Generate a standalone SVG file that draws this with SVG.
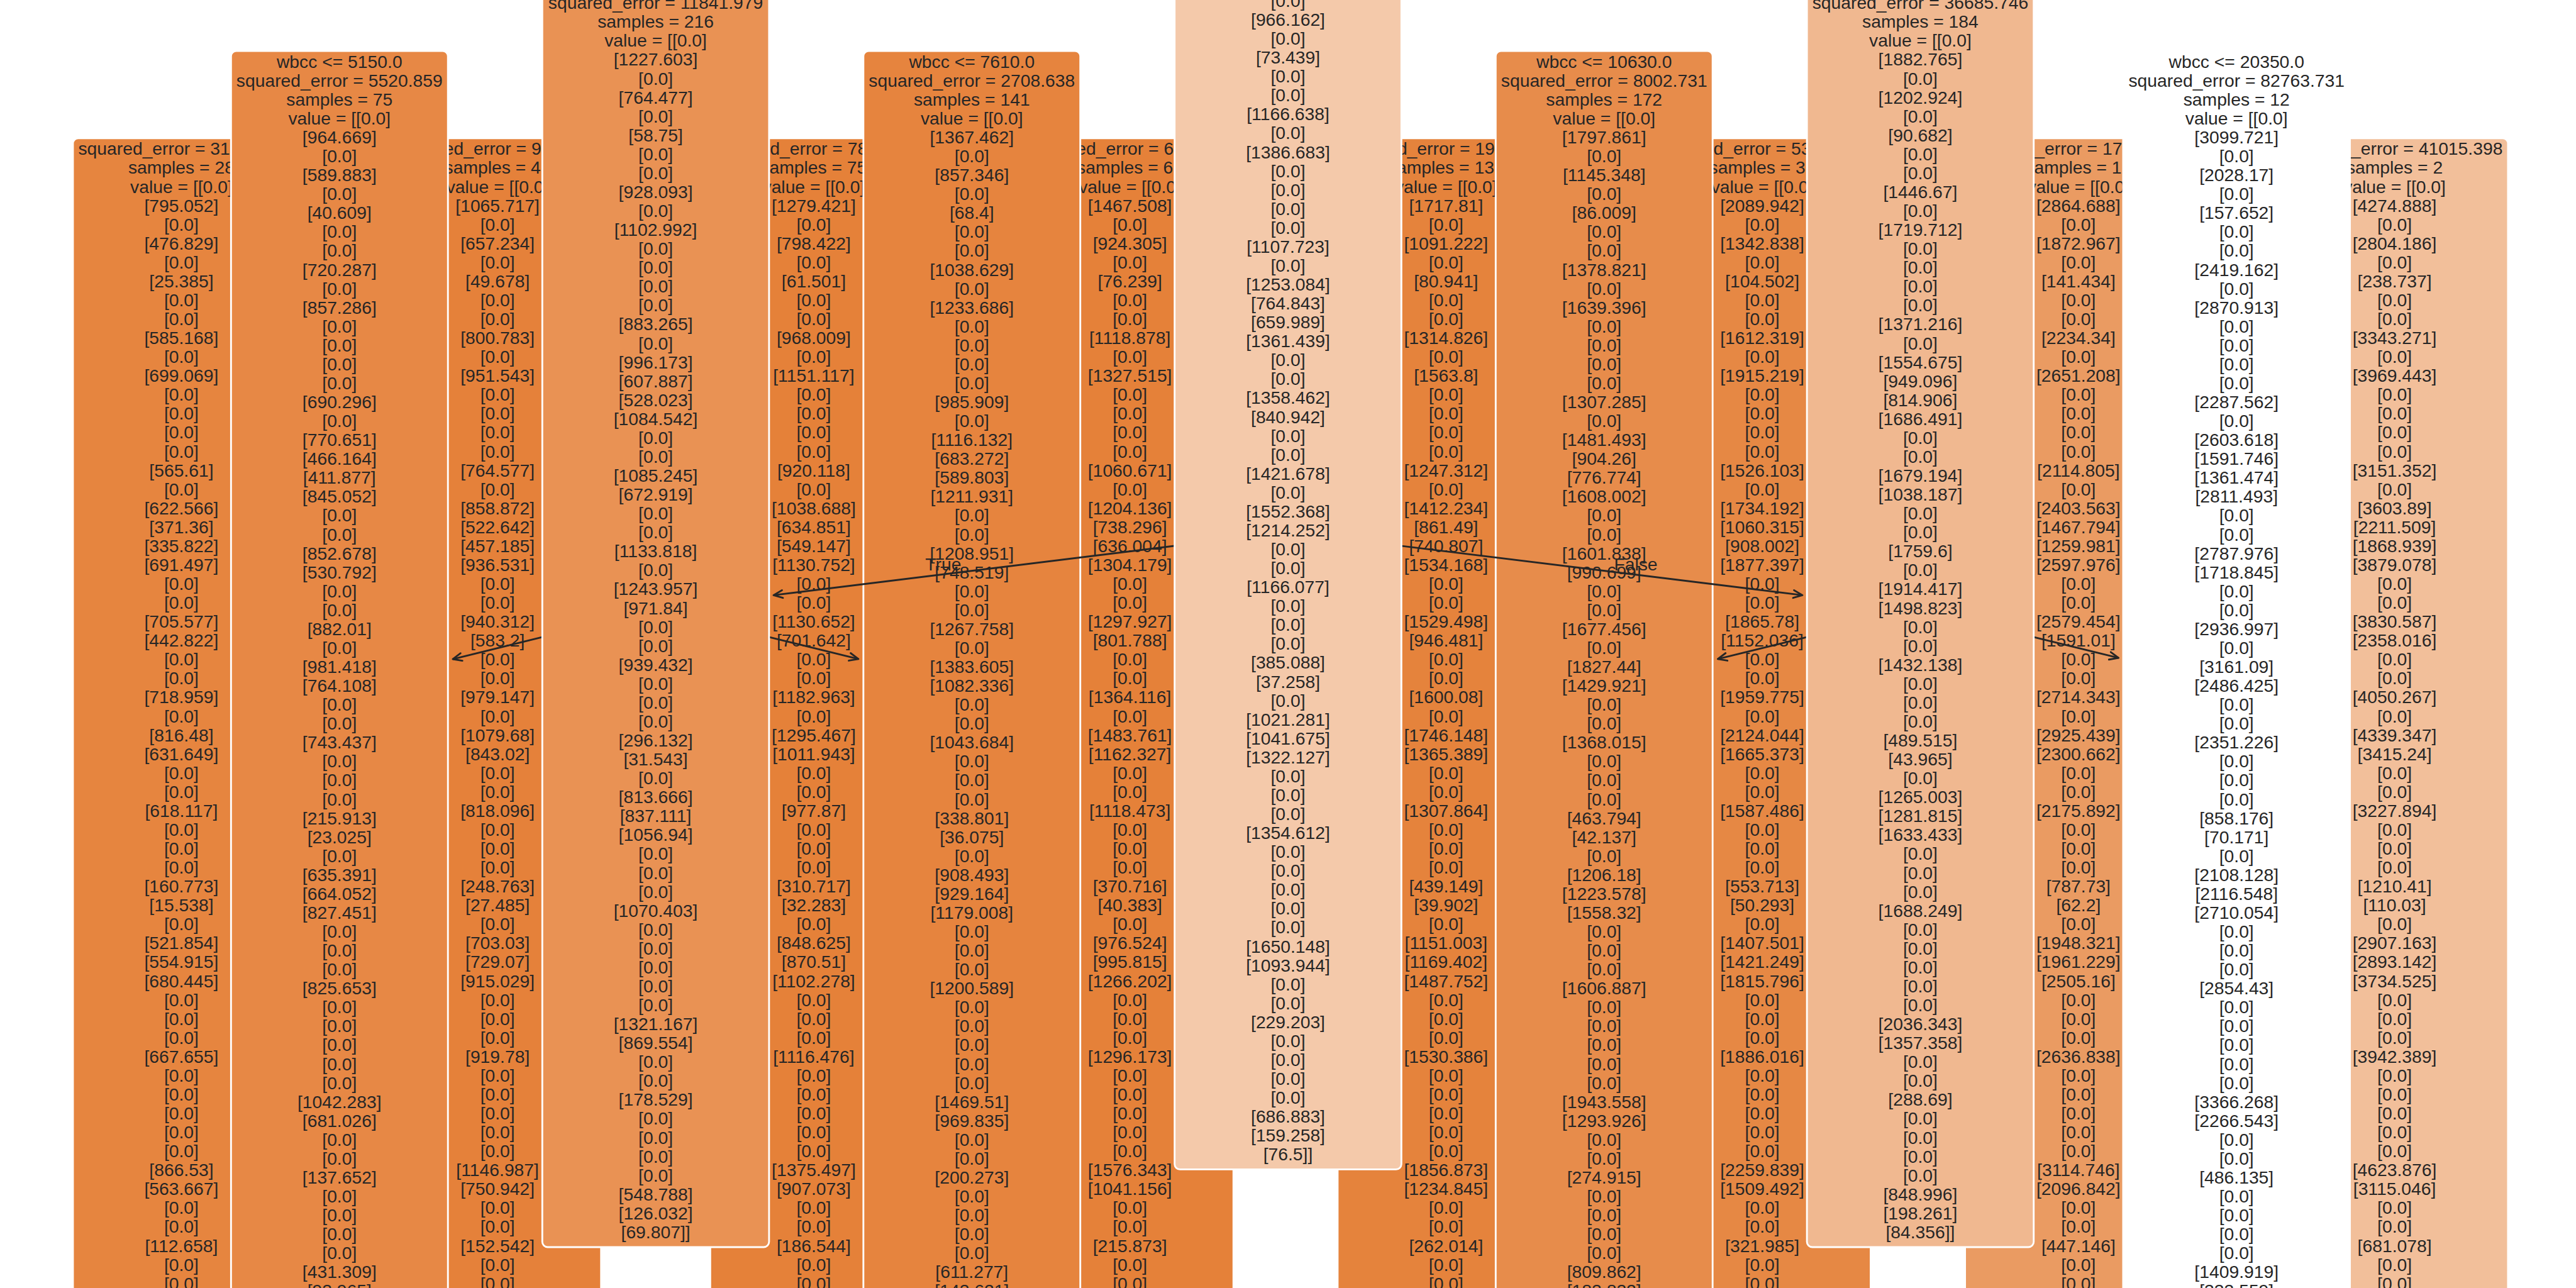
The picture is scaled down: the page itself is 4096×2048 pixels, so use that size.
<svg xmlns="http://www.w3.org/2000/svg" width="4096" height="2048" viewBox="0 0 4096 2048">
<defs>
<style>
text{font-family:"Liberation Sans",Arial,Helvetica,sans-serif;font-size:41.45px;fill:#262626}
.c{text-anchor:middle}
.b{stroke:#ffffff;stroke-width:4.2}
.e line{stroke:#262626;stroke-width:4.2;fill:none;marker-end:url(#ah)}
</style>
<marker id="ah" viewBox="-26 -14 30 28" markerWidth="30" markerHeight="28" refX="0" refY="0" orient="auto" markerUnits="userSpaceOnUse">
<path d="M-21,-9 L0,0 L-21,9" fill="none" stroke="#262626" stroke-width="4.2" stroke-linejoin="round" stroke-linecap="round"/>
</marker>
</defs>
<rect x="0" y="0" width="4096" height="2048" fill="#ffffff"/>
<g transform="scale(0.6826667)">

<g id="node1">
<rect class="b" x="169.9" y="321.9" width="505.2" height="2922.7" rx="12.4" fill="#e6853f"/>
<text x="182.3" y="360.9">squared_error = 31</text>
<text class="c" transform="translate(422.5 0)"><tspan x="0" y="404.95">samples = 28</tspan><tspan x="0" dy="44.05">value = [[0.0]</tspan><tspan x="0" dy="44.05">[795.052]</tspan><tspan x="0" dy="44.05">[0.0]</tspan><tspan x="0" dy="44.05">[476.829]</tspan><tspan x="0" dy="44.05">[0.0]</tspan><tspan x="0" dy="44.05">[25.385]</tspan><tspan x="0" dy="44.05">[0.0]</tspan><tspan x="0" dy="44.05">[0.0]</tspan><tspan x="0" dy="44.05">[585.168]</tspan><tspan x="0" dy="44.05">[0.0]</tspan><tspan x="0" dy="44.05">[699.069]</tspan><tspan x="0" dy="44.05">[0.0]</tspan><tspan x="0" dy="44.05">[0.0]</tspan><tspan x="0" dy="44.05">[0.0]</tspan><tspan x="0" dy="44.05">[0.0]</tspan><tspan x="0" dy="44.05">[565.61]</tspan><tspan x="0" dy="44.05">[0.0]</tspan><tspan x="0" dy="44.05">[622.566]</tspan><tspan x="0" dy="44.05">[371.36]</tspan><tspan x="0" dy="44.05">[335.822]</tspan><tspan x="0" dy="44.05">[691.497]</tspan><tspan x="0" dy="44.05">[0.0]</tspan><tspan x="0" dy="44.05">[0.0]</tspan><tspan x="0" dy="44.05">[705.577]</tspan><tspan x="0" dy="44.05">[442.822]</tspan><tspan x="0" dy="44.05">[0.0]</tspan><tspan x="0" dy="44.05">[0.0]</tspan><tspan x="0" dy="44.05">[718.959]</tspan><tspan x="0" dy="44.05">[0.0]</tspan><tspan x="0" dy="44.05">[816.48]</tspan><tspan x="0" dy="44.05">[631.649]</tspan><tspan x="0" dy="44.05">[0.0]</tspan><tspan x="0" dy="44.05">[0.0]</tspan><tspan x="0" dy="44.05">[618.117]</tspan><tspan x="0" dy="44.05">[0.0]</tspan><tspan x="0" dy="44.05">[0.0]</tspan><tspan x="0" dy="44.05">[0.0]</tspan><tspan x="0" dy="44.05">[160.773]</tspan><tspan x="0" dy="44.05">[15.538]</tspan><tspan x="0" dy="44.05">[0.0]</tspan><tspan x="0" dy="44.05">[521.854]</tspan><tspan x="0" dy="44.05">[554.915]</tspan><tspan x="0" dy="44.05">[680.445]</tspan><tspan x="0" dy="44.05">[0.0]</tspan><tspan x="0" dy="44.05">[0.0]</tspan><tspan x="0" dy="44.05">[0.0]</tspan><tspan x="0" dy="44.05">[667.655]</tspan><tspan x="0" dy="44.05">[0.0]</tspan><tspan x="0" dy="44.05">[0.0]</tspan><tspan x="0" dy="44.05">[0.0]</tspan><tspan x="0" dy="44.05">[0.0]</tspan><tspan x="0" dy="44.05">[0.0]</tspan><tspan x="0" dy="44.05">[866.53]</tspan><tspan x="0" dy="44.05">[563.667]</tspan><tspan x="0" dy="44.05">[0.0]</tspan><tspan x="0" dy="44.05">[0.0]</tspan><tspan x="0" dy="44.05">[112.658]</tspan><tspan x="0" dy="44.05">[0.0]</tspan><tspan x="0" dy="44.05">[0.0]</tspan></text>
</g>

<g id="node3">
<rect class="b" x="917.8" y="321.9" width="482.2" height="2922.7" rx="12.4" fill="#e5813a"/>
<text x="1033.9" y="360.9">ed_error = 9</text>
<text x="1035" y="404.95">samples = 4</text>
<text x="1039.6" y="449">value = [[0.0</text>
<text class="c" transform="translate(1158.9 0)"><tspan x="0" y="493.05">[1065.717]</tspan><tspan x="0" dy="44.05">[0.0]</tspan><tspan x="0" dy="44.05">[657.234]</tspan><tspan x="0" dy="44.05">[0.0]</tspan><tspan x="0" dy="44.05">[49.678]</tspan><tspan x="0" dy="44.05">[0.0]</tspan><tspan x="0" dy="44.05">[0.0]</tspan><tspan x="0" dy="44.05">[800.783]</tspan><tspan x="0" dy="44.05">[0.0]</tspan><tspan x="0" dy="44.05">[951.543]</tspan><tspan x="0" dy="44.05">[0.0]</tspan><tspan x="0" dy="44.05">[0.0]</tspan><tspan x="0" dy="44.05">[0.0]</tspan><tspan x="0" dy="44.05">[0.0]</tspan><tspan x="0" dy="44.05">[764.577]</tspan><tspan x="0" dy="44.05">[0.0]</tspan><tspan x="0" dy="44.05">[858.872]</tspan><tspan x="0" dy="44.05">[522.642]</tspan><tspan x="0" dy="44.05">[457.185]</tspan><tspan x="0" dy="44.05">[936.531]</tspan><tspan x="0" dy="44.05">[0.0]</tspan><tspan x="0" dy="44.05">[0.0]</tspan><tspan x="0" dy="44.05">[940.312]</tspan><tspan x="0" dy="44.05">[583.2]</tspan><tspan x="0" dy="44.05">[0.0]</tspan><tspan x="0" dy="44.05">[0.0]</tspan><tspan x="0" dy="44.05">[979.147]</tspan><tspan x="0" dy="44.05">[0.0]</tspan><tspan x="0" dy="44.05">[1079.68]</tspan><tspan x="0" dy="44.05">[843.02]</tspan><tspan x="0" dy="44.05">[0.0]</tspan><tspan x="0" dy="44.05">[0.0]</tspan><tspan x="0" dy="44.05">[818.096]</tspan><tspan x="0" dy="44.05">[0.0]</tspan><tspan x="0" dy="44.05">[0.0]</tspan><tspan x="0" dy="44.05">[0.0]</tspan><tspan x="0" dy="44.05">[248.763]</tspan><tspan x="0" dy="44.05">[27.485]</tspan><tspan x="0" dy="44.05">[0.0]</tspan><tspan x="0" dy="44.05">[703.03]</tspan><tspan x="0" dy="44.05">[729.07]</tspan><tspan x="0" dy="44.05">[915.029]</tspan><tspan x="0" dy="44.05">[0.0]</tspan><tspan x="0" dy="44.05">[0.0]</tspan><tspan x="0" dy="44.05">[0.0]</tspan><tspan x="0" dy="44.05">[919.78]</tspan><tspan x="0" dy="44.05">[0.0]</tspan><tspan x="0" dy="44.05">[0.0]</tspan><tspan x="0" dy="44.05">[0.0]</tspan><tspan x="0" dy="44.05">[0.0]</tspan><tspan x="0" dy="44.05">[0.0]</tspan><tspan x="0" dy="44.05">[1146.987]</tspan><tspan x="0" dy="44.05">[750.942]</tspan><tspan x="0" dy="44.05">[0.0]</tspan><tspan x="0" dy="44.05">[0.0]</tspan><tspan x="0" dy="44.05">[152.542]</tspan><tspan x="0" dy="44.05">[0.0]</tspan><tspan x="0" dy="44.05">[0.0]</tspan></text>
</g>

<g id="node5">
<rect class="b" x="1654.3" y="321.9" width="482.2" height="2922.7" rx="12.4" fill="#e58139"/>
<text x="1793.4" y="360.9">d_error = 78</text>
<text x="1792.2" y="404.95">amples = 75</text>
<text x="1776.1" y="449">value = [[0.0]</text>
<text class="c" transform="translate(1895.4 0)"><tspan x="0" y="493.05">[1279.421]</tspan><tspan x="0" dy="44.05">[0.0]</tspan><tspan x="0" dy="44.05">[798.422]</tspan><tspan x="0" dy="44.05">[0.0]</tspan><tspan x="0" dy="44.05">[61.501]</tspan><tspan x="0" dy="44.05">[0.0]</tspan><tspan x="0" dy="44.05">[0.0]</tspan><tspan x="0" dy="44.05">[968.009]</tspan><tspan x="0" dy="44.05">[0.0]</tspan><tspan x="0" dy="44.05">[1151.117]</tspan><tspan x="0" dy="44.05">[0.0]</tspan><tspan x="0" dy="44.05">[0.0]</tspan><tspan x="0" dy="44.05">[0.0]</tspan><tspan x="0" dy="44.05">[0.0]</tspan><tspan x="0" dy="44.05">[920.118]</tspan><tspan x="0" dy="44.05">[0.0]</tspan><tspan x="0" dy="44.05">[1038.688]</tspan><tspan x="0" dy="44.05">[634.851]</tspan><tspan x="0" dy="44.05">[549.147]</tspan><tspan x="0" dy="44.05">[1130.752]</tspan><tspan x="0" dy="44.05">[0.0]</tspan><tspan x="0" dy="44.05">[0.0]</tspan><tspan x="0" dy="44.05">[1130.652]</tspan><tspan x="0" dy="44.05">[701.642]</tspan><tspan x="0" dy="44.05">[0.0]</tspan><tspan x="0" dy="44.05">[0.0]</tspan><tspan x="0" dy="44.05">[1182.963]</tspan><tspan x="0" dy="44.05">[0.0]</tspan><tspan x="0" dy="44.05">[1295.467]</tspan><tspan x="0" dy="44.05">[1011.943]</tspan><tspan x="0" dy="44.05">[0.0]</tspan><tspan x="0" dy="44.05">[0.0]</tspan><tspan x="0" dy="44.05">[977.87]</tspan><tspan x="0" dy="44.05">[0.0]</tspan><tspan x="0" dy="44.05">[0.0]</tspan><tspan x="0" dy="44.05">[0.0]</tspan><tspan x="0" dy="44.05">[310.717]</tspan><tspan x="0" dy="44.05">[32.283]</tspan><tspan x="0" dy="44.05">[0.0]</tspan><tspan x="0" dy="44.05">[848.625]</tspan><tspan x="0" dy="44.05">[870.51]</tspan><tspan x="0" dy="44.05">[1102.278]</tspan><tspan x="0" dy="44.05">[0.0]</tspan><tspan x="0" dy="44.05">[0.0]</tspan><tspan x="0" dy="44.05">[0.0]</tspan><tspan x="0" dy="44.05">[1116.476]</tspan><tspan x="0" dy="44.05">[0.0]</tspan><tspan x="0" dy="44.05">[0.0]</tspan><tspan x="0" dy="44.05">[0.0]</tspan><tspan x="0" dy="44.05">[0.0]</tspan><tspan x="0" dy="44.05">[0.0]</tspan><tspan x="0" dy="44.05">[1375.497]</tspan><tspan x="0" dy="44.05">[907.073]</tspan><tspan x="0" dy="44.05">[0.0]</tspan><tspan x="0" dy="44.05">[0.0]</tspan><tspan x="0" dy="44.05">[186.544]</tspan><tspan x="0" dy="44.05">[0.0]</tspan><tspan x="0" dy="44.05">[0.0]</tspan></text>
</g>

<g id="node7">
<rect class="b" x="2390.7" y="321.9" width="482.2" height="2922.7" rx="12.4" fill="#e58139"/>
<text x="2506.8" y="360.9">ed_error = 6</text>
<text x="2507.9" y="404.95">samples = 6</text>
<text x="2512.5" y="449">value = [[0.0</text>
<text class="c" transform="translate(2631.8 0)"><tspan x="0" y="493.05">[1467.508]</tspan><tspan x="0" dy="44.05">[0.0]</tspan><tspan x="0" dy="44.05">[924.305]</tspan><tspan x="0" dy="44.05">[0.0]</tspan><tspan x="0" dy="44.05">[76.239]</tspan><tspan x="0" dy="44.05">[0.0]</tspan><tspan x="0" dy="44.05">[0.0]</tspan><tspan x="0" dy="44.05">[1118.878]</tspan><tspan x="0" dy="44.05">[0.0]</tspan><tspan x="0" dy="44.05">[1327.515]</tspan><tspan x="0" dy="44.05">[0.0]</tspan><tspan x="0" dy="44.05">[0.0]</tspan><tspan x="0" dy="44.05">[0.0]</tspan><tspan x="0" dy="44.05">[0.0]</tspan><tspan x="0" dy="44.05">[1060.671]</tspan><tspan x="0" dy="44.05">[0.0]</tspan><tspan x="0" dy="44.05">[1204.136]</tspan><tspan x="0" dy="44.05">[738.296]</tspan><tspan x="0" dy="44.05">[636.004]</tspan><tspan x="0" dy="44.05">[1304.179]</tspan><tspan x="0" dy="44.05">[0.0]</tspan><tspan x="0" dy="44.05">[0.0]</tspan><tspan x="0" dy="44.05">[1297.927]</tspan><tspan x="0" dy="44.05">[801.788]</tspan><tspan x="0" dy="44.05">[0.0]</tspan><tspan x="0" dy="44.05">[0.0]</tspan><tspan x="0" dy="44.05">[1364.116]</tspan><tspan x="0" dy="44.05">[0.0]</tspan><tspan x="0" dy="44.05">[1483.761]</tspan><tspan x="0" dy="44.05">[1162.327]</tspan><tspan x="0" dy="44.05">[0.0]</tspan><tspan x="0" dy="44.05">[0.0]</tspan><tspan x="0" dy="44.05">[1118.473]</tspan><tspan x="0" dy="44.05">[0.0]</tspan><tspan x="0" dy="44.05">[0.0]</tspan><tspan x="0" dy="44.05">[0.0]</tspan><tspan x="0" dy="44.05">[370.716]</tspan><tspan x="0" dy="44.05">[40.383]</tspan><tspan x="0" dy="44.05">[0.0]</tspan><tspan x="0" dy="44.05">[976.524]</tspan><tspan x="0" dy="44.05">[995.815]</tspan><tspan x="0" dy="44.05">[1266.202]</tspan><tspan x="0" dy="44.05">[0.0]</tspan><tspan x="0" dy="44.05">[0.0]</tspan><tspan x="0" dy="44.05">[0.0]</tspan><tspan x="0" dy="44.05">[1296.173]</tspan><tspan x="0" dy="44.05">[0.0]</tspan><tspan x="0" dy="44.05">[0.0]</tspan><tspan x="0" dy="44.05">[0.0]</tspan><tspan x="0" dy="44.05">[0.0]</tspan><tspan x="0" dy="44.05">[0.0]</tspan><tspan x="0" dy="44.05">[1576.343]</tspan><tspan x="0" dy="44.05">[1041.156]</tspan><tspan x="0" dy="44.05">[0.0]</tspan><tspan x="0" dy="44.05">[0.0]</tspan><tspan x="0" dy="44.05">[215.873]</tspan><tspan x="0" dy="44.05">[0.0]</tspan><tspan x="0" dy="44.05">[0.0]</tspan></text>
</g>

<g id="node9">
<rect class="b" x="3115.6" y="321.9" width="505.2" height="2922.7" rx="12.4" fill="#e5833c"/>
<text x="3254.7" y="360.9">d_error = 19</text>
<text x="3253.5" y="404.95">amples = 13</text>
<text x="3248.9" y="449">value = [[0.0]</text>
<text class="c" transform="translate(3368.2 0)"><tspan x="0" y="493.05">[1717.81]</tspan><tspan x="0" dy="44.05">[0.0]</tspan><tspan x="0" dy="44.05">[1091.222]</tspan><tspan x="0" dy="44.05">[0.0]</tspan><tspan x="0" dy="44.05">[80.941]</tspan><tspan x="0" dy="44.05">[0.0]</tspan><tspan x="0" dy="44.05">[0.0]</tspan><tspan x="0" dy="44.05">[1314.826]</tspan><tspan x="0" dy="44.05">[0.0]</tspan><tspan x="0" dy="44.05">[1563.8]</tspan><tspan x="0" dy="44.05">[0.0]</tspan><tspan x="0" dy="44.05">[0.0]</tspan><tspan x="0" dy="44.05">[0.0]</tspan><tspan x="0" dy="44.05">[0.0]</tspan><tspan x="0" dy="44.05">[1247.312]</tspan><tspan x="0" dy="44.05">[0.0]</tspan><tspan x="0" dy="44.05">[1412.234]</tspan><tspan x="0" dy="44.05">[861.49]</tspan><tspan x="0" dy="44.05">[740.807]</tspan><tspan x="0" dy="44.05">[1534.168]</tspan><tspan x="0" dy="44.05">[0.0]</tspan><tspan x="0" dy="44.05">[0.0]</tspan><tspan x="0" dy="44.05">[1529.498]</tspan><tspan x="0" dy="44.05">[946.481]</tspan><tspan x="0" dy="44.05">[0.0]</tspan><tspan x="0" dy="44.05">[0.0]</tspan><tspan x="0" dy="44.05">[1600.08]</tspan><tspan x="0" dy="44.05">[0.0]</tspan><tspan x="0" dy="44.05">[1746.148]</tspan><tspan x="0" dy="44.05">[1365.389]</tspan><tspan x="0" dy="44.05">[0.0]</tspan><tspan x="0" dy="44.05">[0.0]</tspan><tspan x="0" dy="44.05">[1307.864]</tspan><tspan x="0" dy="44.05">[0.0]</tspan><tspan x="0" dy="44.05">[0.0]</tspan><tspan x="0" dy="44.05">[0.0]</tspan><tspan x="0" dy="44.05">[439.149]</tspan><tspan x="0" dy="44.05">[39.902]</tspan><tspan x="0" dy="44.05">[0.0]</tspan><tspan x="0" dy="44.05">[1151.003]</tspan><tspan x="0" dy="44.05">[1169.402]</tspan><tspan x="0" dy="44.05">[1487.752]</tspan><tspan x="0" dy="44.05">[0.0]</tspan><tspan x="0" dy="44.05">[0.0]</tspan><tspan x="0" dy="44.05">[0.0]</tspan><tspan x="0" dy="44.05">[1530.386]</tspan><tspan x="0" dy="44.05">[0.0]</tspan><tspan x="0" dy="44.05">[0.0]</tspan><tspan x="0" dy="44.05">[0.0]</tspan><tspan x="0" dy="44.05">[0.0]</tspan><tspan x="0" dy="44.05">[0.0]</tspan><tspan x="0" dy="44.05">[1856.873]</tspan><tspan x="0" dy="44.05">[1234.845]</tspan><tspan x="0" dy="44.05">[0.0]</tspan><tspan x="0" dy="44.05">[0.0]</tspan><tspan x="0" dy="44.05">[262.014]</tspan><tspan x="0" dy="44.05">[0.0]</tspan><tspan x="0" dy="44.05">[0.0]</tspan></text>
</g>

<g id="node11">
<rect class="b" x="3852" y="321.9" width="505.2" height="2922.7" rx="12.4" fill="#e68844"/>
<text x="3991.1" y="360.9">d_error = 53</text>
<text x="3980.8" y="404.95">samples = 3</text>
<text x="3985.3" y="449">value = [[0.0</text>
<text class="c" transform="translate(4104.6 0)"><tspan x="0" y="493.05">[2089.942]</tspan><tspan x="0" dy="44.05">[0.0]</tspan><tspan x="0" dy="44.05">[1342.838]</tspan><tspan x="0" dy="44.05">[0.0]</tspan><tspan x="0" dy="44.05">[104.502]</tspan><tspan x="0" dy="44.05">[0.0]</tspan><tspan x="0" dy="44.05">[0.0]</tspan><tspan x="0" dy="44.05">[1612.319]</tspan><tspan x="0" dy="44.05">[0.0]</tspan><tspan x="0" dy="44.05">[1915.219]</tspan><tspan x="0" dy="44.05">[0.0]</tspan><tspan x="0" dy="44.05">[0.0]</tspan><tspan x="0" dy="44.05">[0.0]</tspan><tspan x="0" dy="44.05">[0.0]</tspan><tspan x="0" dy="44.05">[1526.103]</tspan><tspan x="0" dy="44.05">[0.0]</tspan><tspan x="0" dy="44.05">[1734.192]</tspan><tspan x="0" dy="44.05">[1060.315]</tspan><tspan x="0" dy="44.05">[908.002]</tspan><tspan x="0" dy="44.05">[1877.397]</tspan><tspan x="0" dy="44.05">[0.0]</tspan><tspan x="0" dy="44.05">[0.0]</tspan><tspan x="0" dy="44.05">[1865.78]</tspan><tspan x="0" dy="44.05">[1152.036]</tspan><tspan x="0" dy="44.05">[0.0]</tspan><tspan x="0" dy="44.05">[0.0]</tspan><tspan x="0" dy="44.05">[1959.775]</tspan><tspan x="0" dy="44.05">[0.0]</tspan><tspan x="0" dy="44.05">[2124.044]</tspan><tspan x="0" dy="44.05">[1665.373]</tspan><tspan x="0" dy="44.05">[0.0]</tspan><tspan x="0" dy="44.05">[0.0]</tspan><tspan x="0" dy="44.05">[1587.486]</tspan><tspan x="0" dy="44.05">[0.0]</tspan><tspan x="0" dy="44.05">[0.0]</tspan><tspan x="0" dy="44.05">[0.0]</tspan><tspan x="0" dy="44.05">[553.713]</tspan><tspan x="0" dy="44.05">[50.293]</tspan><tspan x="0" dy="44.05">[0.0]</tspan><tspan x="0" dy="44.05">[1407.501]</tspan><tspan x="0" dy="44.05">[1421.249]</tspan><tspan x="0" dy="44.05">[1815.796]</tspan><tspan x="0" dy="44.05">[0.0]</tspan><tspan x="0" dy="44.05">[0.0]</tspan><tspan x="0" dy="44.05">[0.0]</tspan><tspan x="0" dy="44.05">[1886.016]</tspan><tspan x="0" dy="44.05">[0.0]</tspan><tspan x="0" dy="44.05">[0.0]</tspan><tspan x="0" dy="44.05">[0.0]</tspan><tspan x="0" dy="44.05">[0.0]</tspan><tspan x="0" dy="44.05">[0.0]</tspan><tspan x="0" dy="44.05">[2259.839]</tspan><tspan x="0" dy="44.05">[1509.492]</tspan><tspan x="0" dy="44.05">[0.0]</tspan><tspan x="0" dy="44.05">[0.0]</tspan><tspan x="0" dy="44.05">[321.985]</tspan><tspan x="0" dy="44.05">[0.0]</tspan><tspan x="0" dy="44.05">[0.0]</tspan></text>
</g>

<g id="node13">
<rect class="b" x="4577" y="321.9" width="528.2" height="2922.7" rx="12.4" fill="#ea9b62"/>
<text x="4739.2" y="360.9">_error = 17</text>
<text x="4738" y="404.95">amples = 1</text>
<text x="4721.8" y="449">value = [[0.0</text>
<text class="c" transform="translate(4841.1 0)"><tspan x="0" y="493.05">[2864.688]</tspan><tspan x="0" dy="44.05">[0.0]</tspan><tspan x="0" dy="44.05">[1872.967]</tspan><tspan x="0" dy="44.05">[0.0]</tspan><tspan x="0" dy="44.05">[141.434]</tspan><tspan x="0" dy="44.05">[0.0]</tspan><tspan x="0" dy="44.05">[0.0]</tspan><tspan x="0" dy="44.05">[2234.34]</tspan><tspan x="0" dy="44.05">[0.0]</tspan><tspan x="0" dy="44.05">[2651.208]</tspan><tspan x="0" dy="44.05">[0.0]</tspan><tspan x="0" dy="44.05">[0.0]</tspan><tspan x="0" dy="44.05">[0.0]</tspan><tspan x="0" dy="44.05">[0.0]</tspan><tspan x="0" dy="44.05">[2114.805]</tspan><tspan x="0" dy="44.05">[0.0]</tspan><tspan x="0" dy="44.05">[2403.563]</tspan><tspan x="0" dy="44.05">[1467.794]</tspan><tspan x="0" dy="44.05">[1259.981]</tspan><tspan x="0" dy="44.05">[2597.976]</tspan><tspan x="0" dy="44.05">[0.0]</tspan><tspan x="0" dy="44.05">[0.0]</tspan><tspan x="0" dy="44.05">[2579.454]</tspan><tspan x="0" dy="44.05">[1591.01]</tspan><tspan x="0" dy="44.05">[0.0]</tspan><tspan x="0" dy="44.05">[0.0]</tspan><tspan x="0" dy="44.05">[2714.343]</tspan><tspan x="0" dy="44.05">[0.0]</tspan><tspan x="0" dy="44.05">[2925.439]</tspan><tspan x="0" dy="44.05">[2300.662]</tspan><tspan x="0" dy="44.05">[0.0]</tspan><tspan x="0" dy="44.05">[0.0]</tspan><tspan x="0" dy="44.05">[2175.892]</tspan><tspan x="0" dy="44.05">[0.0]</tspan><tspan x="0" dy="44.05">[0.0]</tspan><tspan x="0" dy="44.05">[0.0]</tspan><tspan x="0" dy="44.05">[787.73]</tspan><tspan x="0" dy="44.05">[62.2]</tspan><tspan x="0" dy="44.05">[0.0]</tspan><tspan x="0" dy="44.05">[1948.321]</tspan><tspan x="0" dy="44.05">[1961.229]</tspan><tspan x="0" dy="44.05">[2505.16]</tspan><tspan x="0" dy="44.05">[0.0]</tspan><tspan x="0" dy="44.05">[0.0]</tspan><tspan x="0" dy="44.05">[0.0]</tspan><tspan x="0" dy="44.05">[2636.838]</tspan><tspan x="0" dy="44.05">[0.0]</tspan><tspan x="0" dy="44.05">[0.0]</tspan><tspan x="0" dy="44.05">[0.0]</tspan><tspan x="0" dy="44.05">[0.0]</tspan><tspan x="0" dy="44.05">[0.0]</tspan><tspan x="0" dy="44.05">[3114.746]</tspan><tspan x="0" dy="44.05">[2096.842]</tspan><tspan x="0" dy="44.05">[0.0]</tspan><tspan x="0" dy="44.05">[0.0]</tspan><tspan x="0" dy="44.05">[447.146]</tspan><tspan x="0" dy="44.05">[0.0]</tspan><tspan x="0" dy="44.05">[0.0]</tspan></text>
</g>

<g id="node15">
<rect class="b" x="5313.4" y="321.9" width="528.2" height="2922.7" rx="12.4" fill="#f2bf9a"/>
<text x="5475.6" y="360.9">_error = 41015.398</text>
<text class="c" transform="translate(5577.5 0)"><tspan x="0" y="404.95">samples = 2</tspan><tspan x="0" dy="44.05">value = [[0.0]</tspan><tspan x="0" dy="44.05">[4274.888]</tspan><tspan x="0" dy="44.05">[0.0]</tspan><tspan x="0" dy="44.05">[2804.186]</tspan><tspan x="0" dy="44.05">[0.0]</tspan><tspan x="0" dy="44.05">[238.737]</tspan><tspan x="0" dy="44.05">[0.0]</tspan><tspan x="0" dy="44.05">[0.0]</tspan><tspan x="0" dy="44.05">[3343.271]</tspan><tspan x="0" dy="44.05">[0.0]</tspan><tspan x="0" dy="44.05">[3969.443]</tspan><tspan x="0" dy="44.05">[0.0]</tspan><tspan x="0" dy="44.05">[0.0]</tspan><tspan x="0" dy="44.05">[0.0]</tspan><tspan x="0" dy="44.05">[0.0]</tspan><tspan x="0" dy="44.05">[3151.352]</tspan><tspan x="0" dy="44.05">[0.0]</tspan><tspan x="0" dy="44.05">[3603.89]</tspan><tspan x="0" dy="44.05">[2211.509]</tspan><tspan x="0" dy="44.05">[1868.939]</tspan><tspan x="0" dy="44.05">[3879.078]</tspan><tspan x="0" dy="44.05">[0.0]</tspan><tspan x="0" dy="44.05">[0.0]</tspan><tspan x="0" dy="44.05">[3830.587]</tspan><tspan x="0" dy="44.05">[2358.016]</tspan><tspan x="0" dy="44.05">[0.0]</tspan><tspan x="0" dy="44.05">[0.0]</tspan><tspan x="0" dy="44.05">[4050.267]</tspan><tspan x="0" dy="44.05">[0.0]</tspan><tspan x="0" dy="44.05">[4339.347]</tspan><tspan x="0" dy="44.05">[3415.24]</tspan><tspan x="0" dy="44.05">[0.0]</tspan><tspan x="0" dy="44.05">[0.0]</tspan><tspan x="0" dy="44.05">[3227.894]</tspan><tspan x="0" dy="44.05">[0.0]</tspan><tspan x="0" dy="44.05">[0.0]</tspan><tspan x="0" dy="44.05">[0.0]</tspan><tspan x="0" dy="44.05">[1210.41]</tspan><tspan x="0" dy="44.05">[110.03]</tspan><tspan x="0" dy="44.05">[0.0]</tspan><tspan x="0" dy="44.05">[2907.163]</tspan><tspan x="0" dy="44.05">[2893.142]</tspan><tspan x="0" dy="44.05">[3734.525]</tspan><tspan x="0" dy="44.05">[0.0]</tspan><tspan x="0" dy="44.05">[0.0]</tspan><tspan x="0" dy="44.05">[0.0]</tspan><tspan x="0" dy="44.05">[3942.389]</tspan><tspan x="0" dy="44.05">[0.0]</tspan><tspan x="0" dy="44.05">[0.0]</tspan><tspan x="0" dy="44.05">[0.0]</tspan><tspan x="0" dy="44.05">[0.0]</tspan><tspan x="0" dy="44.05">[0.0]</tspan><tspan x="0" dy="44.05">[4623.876]</tspan><tspan x="0" dy="44.05">[3115.046]</tspan><tspan x="0" dy="44.05">[0.0]</tspan><tspan x="0" dy="44.05">[0.0]</tspan><tspan x="0" dy="44.05">[681.078]</tspan><tspan x="0" dy="44.05">[0.0]</tspan><tspan x="0" dy="44.05">[0.0]</tspan></text>
</g>

<g id="node2">
<rect class="b" x="538.1" y="118.8" width="505.2" height="2966.9" rx="12.4" fill="#e78845"/>
<text class="c" transform="translate(790.7 0)"><tspan x="0" y="157.85">wbcc &lt;= 5150.0</tspan><tspan x="0" dy="44.05">squared_error = 5520.859</tspan><tspan x="0" dy="44.05">samples = 75</tspan><tspan x="0" dy="44.05">value = [[0.0]</tspan><tspan x="0" dy="44.05">[964.669]</tspan><tspan x="0" dy="44.05">[0.0]</tspan><tspan x="0" dy="44.05">[589.883]</tspan><tspan x="0" dy="44.05">[0.0]</tspan><tspan x="0" dy="44.05">[40.609]</tspan><tspan x="0" dy="44.05">[0.0]</tspan><tspan x="0" dy="44.05">[0.0]</tspan><tspan x="0" dy="44.05">[720.287]</tspan><tspan x="0" dy="44.05">[0.0]</tspan><tspan x="0" dy="44.05">[857.286]</tspan><tspan x="0" dy="44.05">[0.0]</tspan><tspan x="0" dy="44.05">[0.0]</tspan><tspan x="0" dy="44.05">[0.0]</tspan><tspan x="0" dy="44.05">[0.0]</tspan><tspan x="0" dy="44.05">[690.296]</tspan><tspan x="0" dy="44.05">[0.0]</tspan><tspan x="0" dy="44.05">[770.651]</tspan><tspan x="0" dy="44.05">[466.164]</tspan><tspan x="0" dy="44.05">[411.877]</tspan><tspan x="0" dy="44.05">[845.052]</tspan><tspan x="0" dy="44.05">[0.0]</tspan><tspan x="0" dy="44.05">[0.0]</tspan><tspan x="0" dy="44.05">[852.678]</tspan><tspan x="0" dy="44.05">[530.792]</tspan><tspan x="0" dy="44.05">[0.0]</tspan><tspan x="0" dy="44.05">[0.0]</tspan><tspan x="0" dy="44.05">[882.01]</tspan><tspan x="0" dy="44.05">[0.0]</tspan><tspan x="0" dy="44.05">[981.418]</tspan><tspan x="0" dy="44.05">[764.108]</tspan><tspan x="0" dy="44.05">[0.0]</tspan><tspan x="0" dy="44.05">[0.0]</tspan><tspan x="0" dy="44.05">[743.437]</tspan><tspan x="0" dy="44.05">[0.0]</tspan><tspan x="0" dy="44.05">[0.0]</tspan><tspan x="0" dy="44.05">[0.0]</tspan><tspan x="0" dy="44.05">[215.913]</tspan><tspan x="0" dy="44.05">[23.025]</tspan><tspan x="0" dy="44.05">[0.0]</tspan><tspan x="0" dy="44.05">[635.391]</tspan><tspan x="0" dy="44.05">[664.052]</tspan><tspan x="0" dy="44.05">[827.451]</tspan><tspan x="0" dy="44.05">[0.0]</tspan><tspan x="0" dy="44.05">[0.0]</tspan><tspan x="0" dy="44.05">[0.0]</tspan><tspan x="0" dy="44.05">[825.653]</tspan><tspan x="0" dy="44.05">[0.0]</tspan><tspan x="0" dy="44.05">[0.0]</tspan><tspan x="0" dy="44.05">[0.0]</tspan><tspan x="0" dy="44.05">[0.0]</tspan><tspan x="0" dy="44.05">[0.0]</tspan><tspan x="0" dy="44.05">[1042.283]</tspan><tspan x="0" dy="44.05">[681.026]</tspan><tspan x="0" dy="44.05">[0.0]</tspan><tspan x="0" dy="44.05">[0.0]</tspan><tspan x="0" dy="44.05">[137.652]</tspan><tspan x="0" dy="44.05">[0.0]</tspan><tspan x="0" dy="44.05">[0.0]</tspan><tspan x="0" dy="44.05">[0.0]</tspan><tspan x="0" dy="44.05">[0.0]</tspan><tspan x="0" dy="44.05">[431.309]</tspan><tspan x="0" dy="44.05">[93.965]</tspan></text>
</g>

<g id="node6">
<rect class="b" x="2011" y="118.8" width="505.2" height="2966.9" rx="12.4" fill="#e6843e"/>
<text class="c" transform="translate(2263.6 0)"><tspan x="0" y="157.85">wbcc &lt;= 7610.0</tspan><tspan x="0" dy="44.05">squared_error = 2708.638</tspan><tspan x="0" dy="44.05">samples = 141</tspan><tspan x="0" dy="44.05">value = [[0.0]</tspan><tspan x="0" dy="44.05">[1367.462]</tspan><tspan x="0" dy="44.05">[0.0]</tspan><tspan x="0" dy="44.05">[857.346]</tspan><tspan x="0" dy="44.05">[0.0]</tspan><tspan x="0" dy="44.05">[68.4]</tspan><tspan x="0" dy="44.05">[0.0]</tspan><tspan x="0" dy="44.05">[0.0]</tspan><tspan x="0" dy="44.05">[1038.629]</tspan><tspan x="0" dy="44.05">[0.0]</tspan><tspan x="0" dy="44.05">[1233.686]</tspan><tspan x="0" dy="44.05">[0.0]</tspan><tspan x="0" dy="44.05">[0.0]</tspan><tspan x="0" dy="44.05">[0.0]</tspan><tspan x="0" dy="44.05">[0.0]</tspan><tspan x="0" dy="44.05">[985.909]</tspan><tspan x="0" dy="44.05">[0.0]</tspan><tspan x="0" dy="44.05">[1116.132]</tspan><tspan x="0" dy="44.05">[683.272]</tspan><tspan x="0" dy="44.05">[589.803]</tspan><tspan x="0" dy="44.05">[1211.931]</tspan><tspan x="0" dy="44.05">[0.0]</tspan><tspan x="0" dy="44.05">[0.0]</tspan><tspan x="0" dy="44.05">[1208.951]</tspan><tspan x="0" dy="44.05">[748.519]</tspan><tspan x="0" dy="44.05">[0.0]</tspan><tspan x="0" dy="44.05">[0.0]</tspan><tspan x="0" dy="44.05">[1267.758]</tspan><tspan x="0" dy="44.05">[0.0]</tspan><tspan x="0" dy="44.05">[1383.605]</tspan><tspan x="0" dy="44.05">[1082.336]</tspan><tspan x="0" dy="44.05">[0.0]</tspan><tspan x="0" dy="44.05">[0.0]</tspan><tspan x="0" dy="44.05">[1043.684]</tspan><tspan x="0" dy="44.05">[0.0]</tspan><tspan x="0" dy="44.05">[0.0]</tspan><tspan x="0" dy="44.05">[0.0]</tspan><tspan x="0" dy="44.05">[338.801]</tspan><tspan x="0" dy="44.05">[36.075]</tspan><tspan x="0" dy="44.05">[0.0]</tspan><tspan x="0" dy="44.05">[908.493]</tspan><tspan x="0" dy="44.05">[929.164]</tspan><tspan x="0" dy="44.05">[1179.008]</tspan><tspan x="0" dy="44.05">[0.0]</tspan><tspan x="0" dy="44.05">[0.0]</tspan><tspan x="0" dy="44.05">[0.0]</tspan><tspan x="0" dy="44.05">[1200.589]</tspan><tspan x="0" dy="44.05">[0.0]</tspan><tspan x="0" dy="44.05">[0.0]</tspan><tspan x="0" dy="44.05">[0.0]</tspan><tspan x="0" dy="44.05">[0.0]</tspan><tspan x="0" dy="44.05">[0.0]</tspan><tspan x="0" dy="44.05">[1469.51]</tspan><tspan x="0" dy="44.05">[969.835]</tspan><tspan x="0" dy="44.05">[0.0]</tspan><tspan x="0" dy="44.05">[0.0]</tspan><tspan x="0" dy="44.05">[200.273]</tspan><tspan x="0" dy="44.05">[0.0]</tspan><tspan x="0" dy="44.05">[0.0]</tspan><tspan x="0" dy="44.05">[0.0]</tspan><tspan x="0" dy="44.05">[0.0]</tspan><tspan x="0" dy="44.05">[611.277]</tspan><tspan x="0" dy="44.05">[143.621]</tspan></text>
</g>

<g id="node10">
<rect class="b" x="3483.8" y="118.8" width="505.2" height="2966.9" rx="12.4" fill="#e78c4b"/>
<text class="c" transform="translate(3736.4 0)"><tspan x="0" y="157.85">wbcc &lt;= 10630.0</tspan><tspan x="0" dy="44.05">squared_error = 8002.731</tspan><tspan x="0" dy="44.05">samples = 172</tspan><tspan x="0" dy="44.05">value = [[0.0]</tspan><tspan x="0" dy="44.05">[1797.861]</tspan><tspan x="0" dy="44.05">[0.0]</tspan><tspan x="0" dy="44.05">[1145.348]</tspan><tspan x="0" dy="44.05">[0.0]</tspan><tspan x="0" dy="44.05">[86.009]</tspan><tspan x="0" dy="44.05">[0.0]</tspan><tspan x="0" dy="44.05">[0.0]</tspan><tspan x="0" dy="44.05">[1378.821]</tspan><tspan x="0" dy="44.05">[0.0]</tspan><tspan x="0" dy="44.05">[1639.396]</tspan><tspan x="0" dy="44.05">[0.0]</tspan><tspan x="0" dy="44.05">[0.0]</tspan><tspan x="0" dy="44.05">[0.0]</tspan><tspan x="0" dy="44.05">[0.0]</tspan><tspan x="0" dy="44.05">[1307.285]</tspan><tspan x="0" dy="44.05">[0.0]</tspan><tspan x="0" dy="44.05">[1481.493]</tspan><tspan x="0" dy="44.05">[904.26]</tspan><tspan x="0" dy="44.05">[776.774]</tspan><tspan x="0" dy="44.05">[1608.002]</tspan><tspan x="0" dy="44.05">[0.0]</tspan><tspan x="0" dy="44.05">[0.0]</tspan><tspan x="0" dy="44.05">[1601.838]</tspan><tspan x="0" dy="44.05">[990.699]</tspan><tspan x="0" dy="44.05">[0.0]</tspan><tspan x="0" dy="44.05">[0.0]</tspan><tspan x="0" dy="44.05">[1677.456]</tspan><tspan x="0" dy="44.05">[0.0]</tspan><tspan x="0" dy="44.05">[1827.44]</tspan><tspan x="0" dy="44.05">[1429.921]</tspan><tspan x="0" dy="44.05">[0.0]</tspan><tspan x="0" dy="44.05">[0.0]</tspan><tspan x="0" dy="44.05">[1368.015]</tspan><tspan x="0" dy="44.05">[0.0]</tspan><tspan x="0" dy="44.05">[0.0]</tspan><tspan x="0" dy="44.05">[0.0]</tspan><tspan x="0" dy="44.05">[463.794]</tspan><tspan x="0" dy="44.05">[42.137]</tspan><tspan x="0" dy="44.05">[0.0]</tspan><tspan x="0" dy="44.05">[1206.18]</tspan><tspan x="0" dy="44.05">[1223.578]</tspan><tspan x="0" dy="44.05">[1558.32]</tspan><tspan x="0" dy="44.05">[0.0]</tspan><tspan x="0" dy="44.05">[0.0]</tspan><tspan x="0" dy="44.05">[0.0]</tspan><tspan x="0" dy="44.05">[1606.887]</tspan><tspan x="0" dy="44.05">[0.0]</tspan><tspan x="0" dy="44.05">[0.0]</tspan><tspan x="0" dy="44.05">[0.0]</tspan><tspan x="0" dy="44.05">[0.0]</tspan><tspan x="0" dy="44.05">[0.0]</tspan><tspan x="0" dy="44.05">[1943.558]</tspan><tspan x="0" dy="44.05">[1293.926]</tspan><tspan x="0" dy="44.05">[0.0]</tspan><tspan x="0" dy="44.05">[0.0]</tspan><tspan x="0" dy="44.05">[274.915]</tspan><tspan x="0" dy="44.05">[0.0]</tspan><tspan x="0" dy="44.05">[0.0]</tspan><tspan x="0" dy="44.05">[0.0]</tspan><tspan x="0" dy="44.05">[0.0]</tspan><tspan x="0" dy="44.05">[809.862]</tspan><tspan x="0" dy="44.05">[183.832]</tspan></text>
</g>

<g id="node14">
<rect class="b" x="4945.2" y="118.8" width="528.2" height="2966.9" rx="12.4" fill="#ffffff"/>
<text class="c" transform="translate(5209.3 0)"><tspan x="0" y="157.85">wbcc &lt;= 20350.0</tspan><tspan x="0" dy="44.05">squared_error = 82763.731</tspan><tspan x="0" dy="44.05">samples = 12</tspan><tspan x="0" dy="44.05">value = [[0.0]</tspan><tspan x="0" dy="44.05">[3099.721]</tspan><tspan x="0" dy="44.05">[0.0]</tspan><tspan x="0" dy="44.05">[2028.17]</tspan><tspan x="0" dy="44.05">[0.0]</tspan><tspan x="0" dy="44.05">[157.652]</tspan><tspan x="0" dy="44.05">[0.0]</tspan><tspan x="0" dy="44.05">[0.0]</tspan><tspan x="0" dy="44.05">[2419.162]</tspan><tspan x="0" dy="44.05">[0.0]</tspan><tspan x="0" dy="44.05">[2870.913]</tspan><tspan x="0" dy="44.05">[0.0]</tspan><tspan x="0" dy="44.05">[0.0]</tspan><tspan x="0" dy="44.05">[0.0]</tspan><tspan x="0" dy="44.05">[0.0]</tspan><tspan x="0" dy="44.05">[2287.562]</tspan><tspan x="0" dy="44.05">[0.0]</tspan><tspan x="0" dy="44.05">[2603.618]</tspan><tspan x="0" dy="44.05">[1591.746]</tspan><tspan x="0" dy="44.05">[1361.474]</tspan><tspan x="0" dy="44.05">[2811.493]</tspan><tspan x="0" dy="44.05">[0.0]</tspan><tspan x="0" dy="44.05">[0.0]</tspan><tspan x="0" dy="44.05">[2787.976]</tspan><tspan x="0" dy="44.05">[1718.845]</tspan><tspan x="0" dy="44.05">[0.0]</tspan><tspan x="0" dy="44.05">[0.0]</tspan><tspan x="0" dy="44.05">[2936.997]</tspan><tspan x="0" dy="44.05">[0.0]</tspan><tspan x="0" dy="44.05">[3161.09]</tspan><tspan x="0" dy="44.05">[2486.425]</tspan><tspan x="0" dy="44.05">[0.0]</tspan><tspan x="0" dy="44.05">[0.0]</tspan><tspan x="0" dy="44.05">[2351.226]</tspan><tspan x="0" dy="44.05">[0.0]</tspan><tspan x="0" dy="44.05">[0.0]</tspan><tspan x="0" dy="44.05">[0.0]</tspan><tspan x="0" dy="44.05">[858.176]</tspan><tspan x="0" dy="44.05">[70.171]</tspan><tspan x="0" dy="44.05">[0.0]</tspan><tspan x="0" dy="44.05">[2108.128]</tspan><tspan x="0" dy="44.05">[2116.548]</tspan><tspan x="0" dy="44.05">[2710.054]</tspan><tspan x="0" dy="44.05">[0.0]</tspan><tspan x="0" dy="44.05">[0.0]</tspan><tspan x="0" dy="44.05">[0.0]</tspan><tspan x="0" dy="44.05">[2854.43]</tspan><tspan x="0" dy="44.05">[0.0]</tspan><tspan x="0" dy="44.05">[0.0]</tspan><tspan x="0" dy="44.05">[0.0]</tspan><tspan x="0" dy="44.05">[0.0]</tspan><tspan x="0" dy="44.05">[0.0]</tspan><tspan x="0" dy="44.05">[3366.268]</tspan><tspan x="0" dy="44.05">[2266.543]</tspan><tspan x="0" dy="44.05">[0.0]</tspan><tspan x="0" dy="44.05">[0.0]</tspan><tspan x="0" dy="44.05">[486.135]</tspan><tspan x="0" dy="44.05">[0.0]</tspan><tspan x="0" dy="44.05">[0.0]</tspan><tspan x="0" dy="44.05">[0.0]</tspan><tspan x="0" dy="44.05">[0.0]</tspan><tspan x="0" dy="44.05">[1409.919]</tspan><tspan x="0" dy="44.05">[333.559]</tspan></text>
</g>

<g id="connectors" class="e">
<line x1="3000" y1="1239" x2="1801.7" y2="1386.3"/>
<line x1="3000" y1="1239" x2="4198.3" y2="1386.3"/>
<line x1="1527.2" y1="1419" x2="1054.5" y2="1535.2"/>
<line x1="1527.2" y1="1419" x2="1999.5" y2="1535"/>
<line x1="4472.8" y1="1419" x2="4001" y2="1535"/>
<line x1="4472.8" y1="1419" x2="4934.6" y2="1532.5"/>
<text x="2155.3" y="1328">True</text>
<text x="3759.4" y="1328">False</text>
</g>

<g id="node4">
<rect class="b" x="1263.1" y="-62.2" width="528.2" height="2966.9" rx="12.4" fill="#e99254"/>
<text class="c" transform="translate(1527.2 0)"><tspan x="0" y="20.9">squared_error = 11841.979</tspan><tspan x="0" dy="44.05">samples = 216</tspan><tspan x="0" dy="44.05">value = [[0.0]</tspan><tspan x="0" dy="44.05">[1227.603]</tspan><tspan x="0" dy="44.05">[0.0]</tspan><tspan x="0" dy="44.05">[764.477]</tspan><tspan x="0" dy="44.05">[0.0]</tspan><tspan x="0" dy="44.05">[58.75]</tspan><tspan x="0" dy="44.05">[0.0]</tspan><tspan x="0" dy="44.05">[0.0]</tspan><tspan x="0" dy="44.05">[928.093]</tspan><tspan x="0" dy="44.05">[0.0]</tspan><tspan x="0" dy="44.05">[1102.992]</tspan><tspan x="0" dy="44.05">[0.0]</tspan><tspan x="0" dy="44.05">[0.0]</tspan><tspan x="0" dy="44.05">[0.0]</tspan><tspan x="0" dy="44.05">[0.0]</tspan><tspan x="0" dy="44.05">[883.265]</tspan><tspan x="0" dy="44.05">[0.0]</tspan><tspan x="0" dy="44.05">[996.173]</tspan><tspan x="0" dy="44.05">[607.887]</tspan><tspan x="0" dy="44.05">[528.023]</tspan><tspan x="0" dy="44.05">[1084.542]</tspan><tspan x="0" dy="44.05">[0.0]</tspan><tspan x="0" dy="44.05">[0.0]</tspan><tspan x="0" dy="44.05">[1085.245]</tspan><tspan x="0" dy="44.05">[672.919]</tspan><tspan x="0" dy="44.05">[0.0]</tspan><tspan x="0" dy="44.05">[0.0]</tspan><tspan x="0" dy="44.05">[1133.818]</tspan><tspan x="0" dy="44.05">[0.0]</tspan><tspan x="0" dy="44.05">[1243.957]</tspan><tspan x="0" dy="44.05">[971.84]</tspan><tspan x="0" dy="44.05">[0.0]</tspan><tspan x="0" dy="44.05">[0.0]</tspan><tspan x="0" dy="44.05">[939.432]</tspan><tspan x="0" dy="44.05">[0.0]</tspan><tspan x="0" dy="44.05">[0.0]</tspan><tspan x="0" dy="44.05">[0.0]</tspan><tspan x="0" dy="44.05">[296.132]</tspan><tspan x="0" dy="44.05">[31.543]</tspan><tspan x="0" dy="44.05">[0.0]</tspan><tspan x="0" dy="44.05">[813.666]</tspan><tspan x="0" dy="44.05">[837.111]</tspan><tspan x="0" dy="44.05">[1056.94]</tspan><tspan x="0" dy="44.05">[0.0]</tspan><tspan x="0" dy="44.05">[0.0]</tspan><tspan x="0" dy="44.05">[0.0]</tspan><tspan x="0" dy="44.05">[1070.403]</tspan><tspan x="0" dy="44.05">[0.0]</tspan><tspan x="0" dy="44.05">[0.0]</tspan><tspan x="0" dy="44.05">[0.0]</tspan><tspan x="0" dy="44.05">[0.0]</tspan><tspan x="0" dy="44.05">[0.0]</tspan><tspan x="0" dy="44.05">[1321.167]</tspan><tspan x="0" dy="44.05">[869.554]</tspan><tspan x="0" dy="44.05">[0.0]</tspan><tspan x="0" dy="44.05">[0.0]</tspan><tspan x="0" dy="44.05">[178.529]</tspan><tspan x="0" dy="44.05">[0.0]</tspan><tspan x="0" dy="44.05">[0.0]</tspan><tspan x="0" dy="44.05">[0.0]</tspan><tspan x="0" dy="44.05">[0.0]</tspan><tspan x="0" dy="44.05">[548.788]</tspan><tspan x="0" dy="44.05">[126.032]</tspan><tspan x="0" dy="44.05">[69.807]]</tspan></text>
</g>

<g id="node12">
<rect class="b" x="4208.7" y="-62.2" width="528.2" height="2966.9" rx="12.4" fill="#f0b890"/>
<text class="c" transform="translate(4472.8 0)"><tspan x="0" y="20.9">squared_error = 36685.746</tspan><tspan x="0" dy="44.05">samples = 184</tspan><tspan x="0" dy="44.05">value = [[0.0]</tspan><tspan x="0" dy="44.05">[1882.765]</tspan><tspan x="0" dy="44.05">[0.0]</tspan><tspan x="0" dy="44.05">[1202.924]</tspan><tspan x="0" dy="44.05">[0.0]</tspan><tspan x="0" dy="44.05">[90.682]</tspan><tspan x="0" dy="44.05">[0.0]</tspan><tspan x="0" dy="44.05">[0.0]</tspan><tspan x="0" dy="44.05">[1446.67]</tspan><tspan x="0" dy="44.05">[0.0]</tspan><tspan x="0" dy="44.05">[1719.712]</tspan><tspan x="0" dy="44.05">[0.0]</tspan><tspan x="0" dy="44.05">[0.0]</tspan><tspan x="0" dy="44.05">[0.0]</tspan><tspan x="0" dy="44.05">[0.0]</tspan><tspan x="0" dy="44.05">[1371.216]</tspan><tspan x="0" dy="44.05">[0.0]</tspan><tspan x="0" dy="44.05">[1554.675]</tspan><tspan x="0" dy="44.05">[949.096]</tspan><tspan x="0" dy="44.05">[814.906]</tspan><tspan x="0" dy="44.05">[1686.491]</tspan><tspan x="0" dy="44.05">[0.0]</tspan><tspan x="0" dy="44.05">[0.0]</tspan><tspan x="0" dy="44.05">[1679.194]</tspan><tspan x="0" dy="44.05">[1038.187]</tspan><tspan x="0" dy="44.05">[0.0]</tspan><tspan x="0" dy="44.05">[0.0]</tspan><tspan x="0" dy="44.05">[1759.6]</tspan><tspan x="0" dy="44.05">[0.0]</tspan><tspan x="0" dy="44.05">[1914.417]</tspan><tspan x="0" dy="44.05">[1498.823]</tspan><tspan x="0" dy="44.05">[0.0]</tspan><tspan x="0" dy="44.05">[0.0]</tspan><tspan x="0" dy="44.05">[1432.138]</tspan><tspan x="0" dy="44.05">[0.0]</tspan><tspan x="0" dy="44.05">[0.0]</tspan><tspan x="0" dy="44.05">[0.0]</tspan><tspan x="0" dy="44.05">[489.515]</tspan><tspan x="0" dy="44.05">[43.965]</tspan><tspan x="0" dy="44.05">[0.0]</tspan><tspan x="0" dy="44.05">[1265.003]</tspan><tspan x="0" dy="44.05">[1281.815]</tspan><tspan x="0" dy="44.05">[1633.433]</tspan><tspan x="0" dy="44.05">[0.0]</tspan><tspan x="0" dy="44.05">[0.0]</tspan><tspan x="0" dy="44.05">[0.0]</tspan><tspan x="0" dy="44.05">[1688.249]</tspan><tspan x="0" dy="44.05">[0.0]</tspan><tspan x="0" dy="44.05">[0.0]</tspan><tspan x="0" dy="44.05">[0.0]</tspan><tspan x="0" dy="44.05">[0.0]</tspan><tspan x="0" dy="44.05">[0.0]</tspan><tspan x="0" dy="44.05">[2036.343]</tspan><tspan x="0" dy="44.05">[1357.358]</tspan><tspan x="0" dy="44.05">[0.0]</tspan><tspan x="0" dy="44.05">[0.0]</tspan><tspan x="0" dy="44.05">[288.69]</tspan><tspan x="0" dy="44.05">[0.0]</tspan><tspan x="0" dy="44.05">[0.0]</tspan><tspan x="0" dy="44.05">[0.0]</tspan><tspan x="0" dy="44.05">[0.0]</tspan><tspan x="0" dy="44.05">[848.996]</tspan><tspan x="0" dy="44.05">[198.261]</tspan><tspan x="0" dy="44.05">[84.356]]</tspan></text>
</g>

<g id="root">
<rect class="b" x="2735.9" y="-243.2" width="528.2" height="2966.9" rx="12.4" fill="#f4c9aa"/>
<text class="c" transform="translate(3000 0)"><tspan x="0" y="16.1">[0.0]</tspan><tspan x="0" dy="44.05">[966.162]</tspan><tspan x="0" dy="44.05">[0.0]</tspan><tspan x="0" dy="44.05">[73.439]</tspan><tspan x="0" dy="44.05">[0.0]</tspan><tspan x="0" dy="44.05">[0.0]</tspan><tspan x="0" dy="44.05">[1166.638]</tspan><tspan x="0" dy="44.05">[0.0]</tspan><tspan x="0" dy="44.05">[1386.683]</tspan><tspan x="0" dy="44.05">[0.0]</tspan><tspan x="0" dy="44.05">[0.0]</tspan><tspan x="0" dy="44.05">[0.0]</tspan><tspan x="0" dy="44.05">[0.0]</tspan><tspan x="0" dy="44.05">[1107.723]</tspan><tspan x="0" dy="44.05">[0.0]</tspan><tspan x="0" dy="44.05">[1253.084]</tspan><tspan x="0" dy="44.05">[764.843]</tspan><tspan x="0" dy="44.05">[659.989]</tspan><tspan x="0" dy="44.05">[1361.439]</tspan><tspan x="0" dy="44.05">[0.0]</tspan><tspan x="0" dy="44.05">[0.0]</tspan><tspan x="0" dy="44.05">[1358.462]</tspan><tspan x="0" dy="44.05">[840.942]</tspan><tspan x="0" dy="44.05">[0.0]</tspan><tspan x="0" dy="44.05">[0.0]</tspan><tspan x="0" dy="44.05">[1421.678]</tspan><tspan x="0" dy="44.05">[0.0]</tspan><tspan x="0" dy="44.05">[1552.368]</tspan><tspan x="0" dy="44.05">[1214.252]</tspan><tspan x="0" dy="44.05">[0.0]</tspan><tspan x="0" dy="44.05">[0.0]</tspan><tspan x="0" dy="44.05">[1166.077]</tspan><tspan x="0" dy="44.05">[0.0]</tspan><tspan x="0" dy="44.05">[0.0]</tspan><tspan x="0" dy="44.05">[0.0]</tspan><tspan x="0" dy="44.05">[385.088]</tspan><tspan x="0" dy="44.05">[37.258]</tspan><tspan x="0" dy="44.05">[0.0]</tspan><tspan x="0" dy="44.05">[1021.281]</tspan><tspan x="0" dy="44.05">[1041.675]</tspan><tspan x="0" dy="44.05">[1322.127]</tspan><tspan x="0" dy="44.05">[0.0]</tspan><tspan x="0" dy="44.05">[0.0]</tspan><tspan x="0" dy="44.05">[0.0]</tspan><tspan x="0" dy="44.05">[1354.612]</tspan><tspan x="0" dy="44.05">[0.0]</tspan><tspan x="0" dy="44.05">[0.0]</tspan><tspan x="0" dy="44.05">[0.0]</tspan><tspan x="0" dy="44.05">[0.0]</tspan><tspan x="0" dy="44.05">[0.0]</tspan><tspan x="0" dy="44.05">[1650.148]</tspan><tspan x="0" dy="44.05">[1093.944]</tspan><tspan x="0" dy="44.05">[0.0]</tspan><tspan x="0" dy="44.05">[0.0]</tspan><tspan x="0" dy="44.05">[229.203]</tspan><tspan x="0" dy="44.05">[0.0]</tspan><tspan x="0" dy="44.05">[0.0]</tspan><tspan x="0" dy="44.05">[0.0]</tspan><tspan x="0" dy="44.05">[0.0]</tspan><tspan x="0" dy="44.05">[686.883]</tspan><tspan x="0" dy="44.05">[159.258]</tspan><tspan x="0" dy="44.05">[76.5]]</tspan></text>
</g>

</g>
</svg>
